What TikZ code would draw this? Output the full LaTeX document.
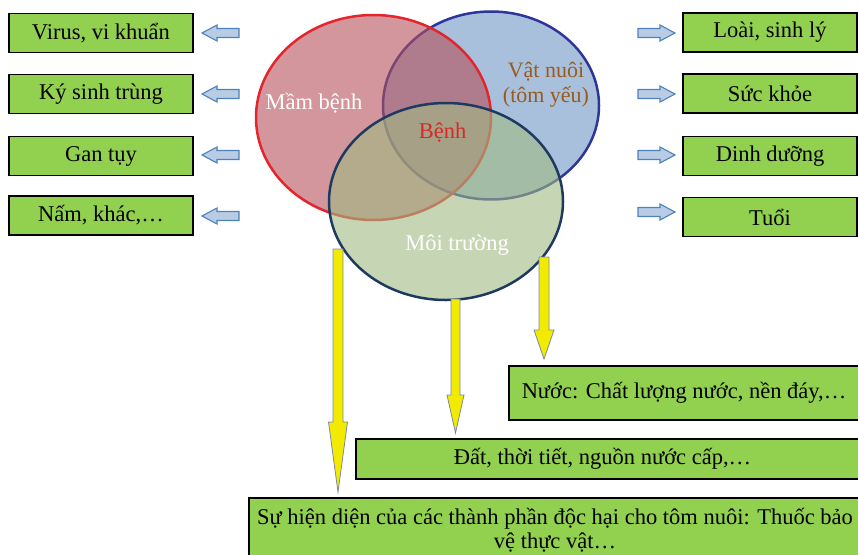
\documentclass[tikz,border=0pt]{standalone}
\usepackage{fontspec}
\setmainfont{Liberation Serif}
\usetikzlibrary{shapes.geometric}
\definecolor{boxgreen}{HTML}{92D050}
\definecolor{redline}{HTML}{E4262C}
\definecolor{redfill}{RGB}{180,80,90}
\definecolor{blueline}{HTML}{2F3699}
\definecolor{bluefill}{RGB}{110,150,195}
\definecolor{greenline}{HTML}{1F3A60}
\definecolor{greenfill}{RGB}{160,185,130}
\definecolor{arrowfill}{HTML}{B8CCE4}
\definecolor{arrowline}{HTML}{4F81BD}
\definecolor{yellowfill}{HTML}{F2EA00}
\definecolor{yellowline}{HTML}{7A8AA6}
\definecolor{brownlabel}{HTML}{995A1E}
\definecolor{redlabel}{HTML}{D42A2A}
% vertical yellow arrow: x, top, head start, tip, shaft half, head half
\newcommand\yellowarrow[6]{%
  \filldraw[yarrow] (#1-#5,#2) -- (#1+#5,#2) -- (#1+#5,#3) -- (#1+#6,#3) -- (#1,#4) -- (#1-#6,#3) -- (#1-#5,#3) -- cycle;}
% horizontal block arrow: tip x, y, direction (+1 right, -1 left)
\newcommand\blockarrow[3]{%
  \filldraw[barrow] (#1,#2) -- (#1-#3*15,#2-8) -- (#1-#3*15,#2-4.5) -- (#1-#3*37,#2-4.5)
     -- (#1-#3*37,#2+4.5) -- (#1-#3*15,#2+4.5) -- (#1-#3*15,#2+8) -- cycle;}
\begin{document}
\begin{tikzpicture}[x=1pt,y=-1pt,
  every node/.style={font=\fontsize{22.5}{25}\selectfont},
  gbox/.style={draw=black, line width=1.8pt, fill=boxgreen, inner sep=0pt, align=center},
  lbox/.style={gbox, minimum width=184pt, minimum height=39pt},
  rbox/.style={gbox, minimum width=174pt, minimum height=39pt},
  venn/.style={ellipse, inner sep=0pt, line width=2.5pt, fill opacity=0.6},
  barrow/.style={draw=arrowline, fill=arrowfill, line width=1.1pt, line join=miter},
  yarrow/.style={fill=yellowfill, draw=yellowline, line width=0.8pt, line join=miter}
]
\useasboundingbox (0,0) rectangle (858,554);
\begin{scope}
\clip (0,0) rectangle (858,554);
% Venn ellipses
\node[venn, draw=blueline, fill=bluefill, minimum width=216pt, minimum height=188pt] (host) at (491,105.5) {};
\node[venn, draw=redline, fill=redfill, minimum width=235pt, minimum height=205pt] (pathogen) at (373.5,117.5) {};
\node[venn, draw=greenline, fill=greenfill, minimum width=234pt, minimum height=197pt] (env) at (446,201.5) {};
% labels
\node[text=white] (lpath) at (314,103) {Mầm bệnh};
\node[text=brownlabel, align=center, font=\fontsize{22}{25}\selectfont] (lhost) at (546,85) {Vật nuôi\\(tôm yếu)};
\node[text=redlabel] (ldis) at (442.5,133) {Bệnh};
\node[text=white] (lenv) at (457,245) {Môi trường};
% left boxes
\node[lbox] (b1) at (101,33) {Virus, vi khuẩn};
\node[lbox] (b2) at (101,94) {Ký sinh trùng};
\node[lbox] (b3) at (101,156) {Gan tụy};
\node[lbox] (b4) at (101,215.5) {Nấm, khác,…};
% left arrows
\blockarrow{202}{33}{-1}
\blockarrow{202}{94}{-1}
\blockarrow{202}{155}{-1}
\blockarrow{202}{216}{-1}
% right boxes
\node[rbox] (c1) at (770,32.5) {Loài, sinh lý};
\node[rbox] (c2) at (770,93.5) {Sức khỏe};
\node[rbox] (c3) at (770,156) {Dinh dưỡng};
\node[rbox] (c4) at (770,217) {Tuổi};
% right arrows
\blockarrow{675}{33}{1}
\blockarrow{675}{94}{1}
\blockarrow{675}{155}{1}
\blockarrow{675}{212}{1}
% bottom boxes
\node[gbox, minimum width=350pt, minimum height=54pt] (water) at (684,393) {Nước: Chất lượng nước, nền đáy,…};
\node[gbox, minimum width=503pt, minimum height=40pt] (soil) at (607.5,459) {\hspace*{-10pt}Đất, thời tiết, nguồn nước cấp,…};
\node[gbox, minimum width=612pt, minimum height=64pt] (toxic) at (555,530) {Sự hiện diện của các thành phần độc hại cho tôm nuôi: Thuốc bảo\\[-1pt]vệ thực vật…};
% yellow arrows
\yellowarrow{338}{249}{422}{492}{5}{9.5}
\yellowarrow{455.5}{299}{395}{433}{4.5}{8.5}
\yellowarrow{544}{257}{330}{359}{5}{10}
\end{scope}
\end{tikzpicture}
\end{document}
